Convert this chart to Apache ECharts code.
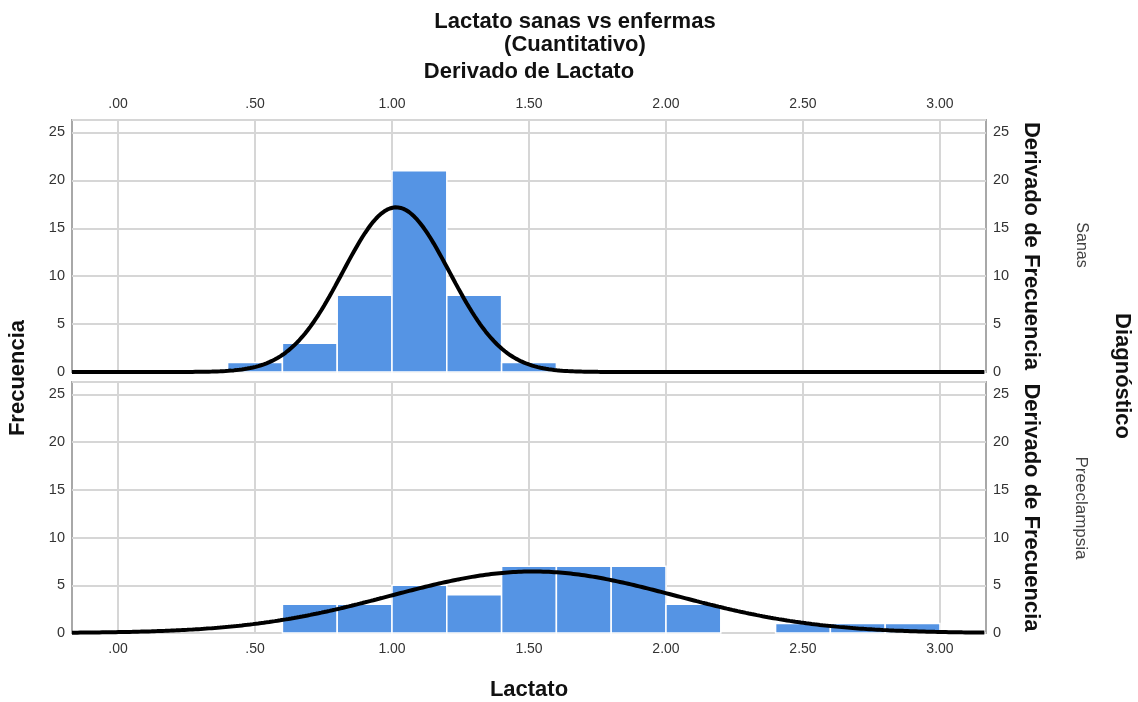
<!DOCTYPE html>
<html>
<head>
<meta charset="utf-8">
<script src="https://cdn.jsdelivr.net/npm/echarts@6/dist/echarts.min.js"></script>
<style>
html, body { margin: 0; padding: 0; background: #fff; }
#main { width: 1138px; height: 702px; }
</style>
</head>
<body>
<div id="main"></div>
<script>
// *******Histogram data (bins are 0.2 wide, value = left edge)*******
var binWidth = 0.2;
var sanasBins = [0.4, 0.6, 0.8, 1.0, 1.2, 1.4];
var sanasCounts = [1, 3, 8, 21, 8, 1];
var preBins = [0.6, 0.8, 1.0, 1.2, 1.4, 1.6, 1.8, 2.0, 2.2, 2.4, 2.6, 2.8];
var preCounts = [3, 3, 5, 4, 7, 7, 7, 3, 0, 1, 1, 1];

// normal curve fitted by SPSS (mean / sd)
var sanasMean = 1.015, sanasSd = 0.195;
var preMean = 1.515, preSd = 0.52;

// axis stuff
var xTicks = [0, 0.5, 1.0, 1.5, 2.0, 2.5, 3.0];
var xMin = -0.168, xMax = 3.168;
var yMax = 26.3;

var barColor = '#5594e4';
var gridColor = '#d6d6d6';
var font = '"Liberation Sans", Arial, sans-serif';

var myChart = echarts.init(document.getElementById('main'));

function toPairs(bins, counts) {
    var out = [];
    for (var i = 0; i < bins.length; i++) {
        if (counts[i] > 0) out.push([bins[i], counts[i]]);
    }
    return out;
}

function sum(arr) {
    var s = 0;
    arr.forEach(function (v) { s += v; });
    return s;
}

// density * N * bin width, sampled across the axis range
function normalCurve(mean, sd, n) {
    var pts = [];
    var k = n * binWidth / (sd * Math.sqrt(2 * Math.PI));
    for (var x = xMin; x <= xMax + 1e-9; x += 0.01) {
        var z = (x - mean) / sd;
        pts.push([x, k * Math.exp(-0.5 * z * z)]);
    }
    return pts;
}

function histRender(params, api) {
    var x0 = api.value(0);
    var h = api.value(1);
    var p0 = api.coord([x0, h]);
    var p1 = api.coord([x0 + binWidth, 0]);
    return {
        type: 'rect',
        shape: { x: p0[0], y: p0[1], width: p1[0] - p0[0], height: p1[1] - p0[1] },
        style: { fill: barColor, stroke: '#ffffff', lineWidth: 1.5 }
    };
}

function fmtX(v) {
    var s = Number(v).toFixed(2);
    if (Math.abs(v) < 1) s = s.replace(/^0/, '');
    return s;
}

function xAxisFor(gridIndex, pos, showLabels) {
    return {
        type: 'value', gridIndex: gridIndex, position: pos,
        min: xMin, max: xMax,
        axisLine: { show: false },
        axisTick: { show: false, customValues: xTicks },
        axisLabel: {
            show: showLabels, customValues: xTicks, formatter: fmtX,
            color: '#333', fontFamily: font, fontSize: 14, margin: 9
        },
        splitLine: { show: true, lineStyle: { color: gridColor, width: 2 } }
    };
}

function yAxisFor(gridIndex, pos, isRight) {
    return {
        type: 'value', gridIndex: gridIndex, position: pos,
        min: 0, max: yMax, interval: 5,
        axisLine: { show: false },
        axisTick: { show: false },
        axisLabel: {
            color: '#333', fontFamily: font, fontSize: 14.5, margin: 7,
            showMaxLabel: false
        },
        splitLine: { show: !isRight, lineStyle: { color: gridColor, width: 2 } },
        name: isRight ? 'Derivado de Frecuencia' : '',
        nameLocation: 'middle',
        nameRotate: -90,
        nameGap: 34,
        nameTextStyle: { fontFamily: font, fontSize: 22, fontWeight: 'bold', color: '#111' }
    };
}

var option = {
    backgroundColor: '#ffffff',
    animation: false,
    title: {
        text: 'Lactato sanas vs enfermas\n(Cuantitativo)',
        left: 570, top: 5, textAlign: 'center',
        textStyle: { fontFamily: font, fontSize: 22, fontWeight: 'bold', color: '#111', lineHeight: 23 }
    },
    grid: [
        { left: 72, right: 152, top: 120, height: 252, show: true, borderColor: '#a8a8a8', borderWidth: 2, containLabel: false },
        { left: 72, right: 152, top: 382, height: 251, show: true, borderColor: '#a8a8a8', borderWidth: 2, containLabel: false }
    ],
    xAxis: [
        xAxisFor(0, 'top', true),
        xAxisFor(1, 'bottom', true)
    ],
    yAxis: [
        yAxisFor(0, 'left', false),
        yAxisFor(0, 'right', true),
        yAxisFor(1, 'left', false),
        yAxisFor(1, 'right', true)
    ],
    series: [
        {
            type: 'custom', name: 'Sanas', xAxisIndex: 0, yAxisIndex: 0,
            renderItem: histRender, data: toPairs(sanasBins, sanasCounts), z: 3
        },
        {
            type: 'custom', name: 'Preeclampsia', xAxisIndex: 1, yAxisIndex: 2,
            renderItem: histRender, data: toPairs(preBins, preCounts), z: 3
        },
        {
            type: 'line', xAxisIndex: 0, yAxisIndex: 0, showSymbol: false, z: 5,
            lineStyle: { color: '#000', width: 4 },
            data: normalCurve(sanasMean, sanasSd, sum(sanasCounts))
        },
        {
            type: 'line', xAxisIndex: 1, yAxisIndex: 2, showSymbol: false, z: 5,
            lineStyle: { color: '#000', width: 4 },
            data: normalCurve(preMean, preSd, sum(preCounts))
        }
    ],
    graphic: [
        {
            type: 'text', x: 529, y: 72,
            style: { text: 'Derivado de Lactato', font: 'bold 22px ' + font, fill: '#111', align: 'center', verticalAlign: 'middle' }
        },
        {
            type: 'text', x: 529, y: 690,
            style: { text: 'Lactato', font: 'bold 22px ' + font, fill: '#111', align: 'center', verticalAlign: 'middle' }
        },
        {
            type: 'text', x: 18, y: 378, rotation: Math.PI / 2,
            style: { text: 'Frecuencia', font: 'bold 22px ' + font, fill: '#111', align: 'center', verticalAlign: 'middle' }
        },
        {
            type: 'text', x: 1122, y: 376, rotation: -Math.PI / 2,
            style: { text: 'Diagnóstico', font: 'bold 22px ' + font, fill: '#111', align: 'center', verticalAlign: 'middle' }
        },
        {
            type: 'text', x: 1081, y: 245, rotation: -Math.PI / 2,
            style: { text: 'Sanas', font: '16px ' + font, fill: '#444', align: 'center', verticalAlign: 'middle' }
        },
        {
            type: 'text', x: 1081, y: 508, rotation: -Math.PI / 2,
            style: { text: 'Preeclampsia', font: '17px ' + font, fill: '#444', align: 'center', verticalAlign: 'middle' }
        }
    ]
};

myChart.setOption(option);
</script>
</body>
</html>
